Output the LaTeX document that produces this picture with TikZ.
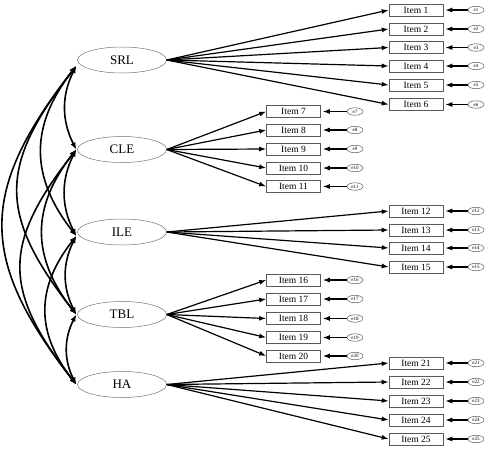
\documentclass[tikz,border=0pt]{standalone}
\usepackage{fontspec}
\setmainfont{Liberation Serif}
\usetikzlibrary{arrows.meta,shapes.geometric}
\tikzset{
  factor/.style={ellipse,draw=black!55,line width=0.5pt,minimum width=89pt,minimum height=26pt,inner sep=0pt,font=\fontsize{13}{13}\selectfont},
  itembox/.style={rectangle,draw=black!65,line width=0.6pt,minimum width=54pt,minimum height=12pt,inner sep=0pt,font=\fontsize{9.5}{9.5}\selectfont},
  errnode/.style={ellipse,draw=black!65,line width=0.5pt,minimum width=16pt,minimum height=7.5pt,inner sep=0pt,font=\fontsize{5}{5}\selectfont},
  load/.style={line width=1.2pt,-{Latex[length=7pt,width=5pt]}},
  errarr/.style={line width=1.2pt,-{Latex[length=7pt,width=5pt]},shorten >=2pt},
  cov/.style={line width=1.6pt,{Latex[length=7pt,width=5.5pt]}-{Latex[length=7pt,width=5.5pt]}}
}
\begin{document}
\begin{tikzpicture}[x=1pt,y=-1pt]
\useasboundingbox (0,0) rectangle (496,448);
% factors
\node[factor] (SRL) at (122,60) {SRL};
\node[factor] (CLE) at (122,149.5) {CLE};
\node[factor] (ILE) at (122,232) {ILE};
\node[factor] (TBL) at (122,314.5) {TBL};
\node[factor] (HA)  at (122,384.5) {HA};
% items and errors: right column
\foreach \i/\y in {1/10,2/29,3/47.5,4/66,5/85,6/104.5,12/211,13/230,14/248,15/267,21/363,22/382,23/401,24/420,25/439}{
  \node[itembox] (I\i) at (416,\y) {Item \i};
  \node[errnode] (E\i) at (476,\y) {e\i};
  \draw[errarr] (E\i) -- (I\i);
}
% items and errors: middle column
\foreach \i/\y in {7/111.5,8/130,9/149,10/168,11/186.5,16/280,17/299,18/318.5,19/337.5,20/356}{
  \node[itembox] (I\i) at (293.5,\y) {Item \i};
  \node[errnode] (E\i) at (355,\y) {e\i};
  \draw[errarr] (E\i) -- (I\i);
}
% loadings
\foreach \i in {1,...,6}{\draw[load] (SRL.east) -- (I\i.west);}
\foreach \i in {7,...,11}{\draw[load] (CLE.east) -- (I\i.west);}
\foreach \i in {12,...,15}{\draw[load] (ILE.east) -- (I\i.west);}
\foreach \i in {16,...,20}{\draw[load] (TBL.east) -- (I\i.west);}
\foreach \i in {21,...,25}{\draw[load] (HA.east) -- (I\i.west);}
% covariance anchors
\coordinate (cSRL) at ([yshift=-6pt,xshift=-1pt]SRL.west);
\coordinate (cCLE) at ([xshift=-1pt]CLE.west);
\coordinate (cILE) at ([yshift=-4pt,xshift=-1pt]ILE.west);
\coordinate (cTBL) at ([xshift=-1pt]TBL.west);
\coordinate (cHA)  at ([xshift=-1pt]HA.west);
% covariances
\draw[cov] (cSRL) to[bend right=27] (cCLE);
\draw[cov] (cCLE) to[bend right=27] (cILE);
\draw[cov] (cILE) to[bend right=27] (cTBL);
\draw[cov] (cTBL) to[bend right=27] (cHA);
\draw[cov] (cSRL) to[bend right=38,looseness=1.14] (cILE);
\draw[cov] (cCLE) to[bend right=38,looseness=1.14] (cTBL);
\draw[cov] (cILE) to[bend right=38,looseness=1.14] (cHA);
\draw[cov] (cSRL) to[bend right=38,looseness=1.31] (cTBL);
\draw[cov] (cCLE) to[bend right=38,looseness=1.31] (cHA);
\draw[cov] (cSRL) to[bend right=38,looseness=1.28] (cHA);
\end{tikzpicture}
\end{document}
